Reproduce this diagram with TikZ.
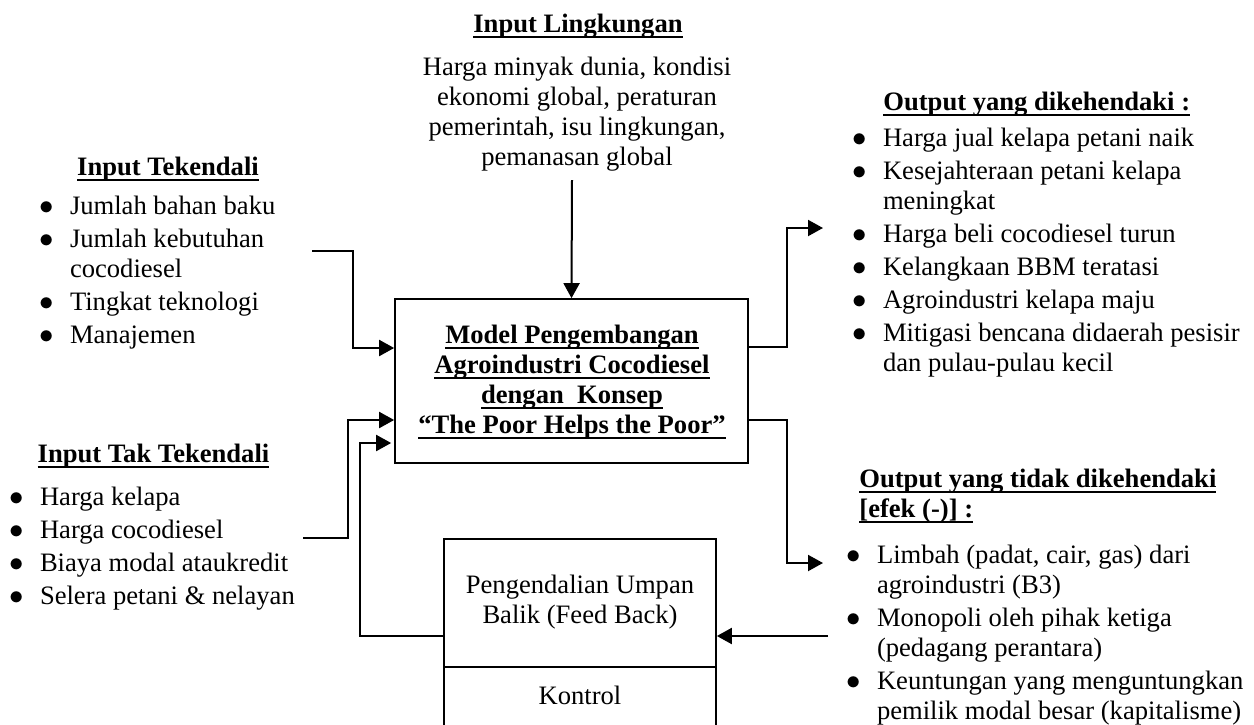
\documentclass[tikz,border=0pt]{standalone}
\usepackage{fontspec}
\setmainfont{Liberation Serif}
\usetikzlibrary{arrows.meta,calc}
\newcommand{\myul}[1]{\begingroup\setbox0=\hbox{#1}\rlap{\vrule width\wd0 height -2.2pt depth 3.1pt}\box0\endgroup}
\newcommand{\bul}{\makebox[15.3pt][l]{$\bullet$}}
\newcommand{\cnt}{\hspace*{15.3pt}}
\newcommand{\isep}{\\[1.5pt]}
\newcommand{\lst}[1]{\begin{tabular}[t]{@{}l@{}}#1\end{tabular}}
\newcommand{\cst}[1]{\begin{tabular}[t]{@{}c@{}}#1\end{tabular}}
\tikzset{
  conn/.style={line width=1pt, -{Triangle[length=7.5pt,width=8pt]}},
  txt/.style={inner sep=0pt, font=\fontsize{13.3}{15}\selectfont},
  btxt/.style={inner sep=0pt, font=\fontsize{13.3}{15}\selectfont\bfseries},
  boxs/.style={draw, line width=0.85pt, inner sep=0pt},
}
\begin{document}
\begin{tikzpicture}[x=0.5pt, y=-0.5pt]
\useasboundingbox (0,0) rectangle (1254,724);
\clip (0,0) rectangle (1254,724);

% central model box
\node[boxs, minimum width=176.5pt, minimum height=82pt] (model) at (571.5,381) {};
\node[btxt, anchor=base] (modeltxt) at (572,343) {\cst{\myul{Model Pengembangan}\\ \myul{Agroindustri Cocodiesel}\\ \myul{dengan\ \ Konsep}\\ \myul{“The Poor Helps the Poor”}}};

% feedback box
\node[boxs, minimum width=136pt, minimum height=64pt] (fb) at (580,603) {};
\node[boxs, minimum width=136pt, minimum height=36.5pt] (ktl) at (580,703.5) {};
\node[txt, anchor=base] (fbtxt) at (580,593) {\cst{Pengendalian Umpan\\Balik (Feed Back)}};
\node[txt, anchor=base] (ktltxt) at (580,704) {Kontrol};

% input lingkungan
\node[btxt, anchor=base] (envtitle) at (578,32) {\myul{Input Lingkungan}};
\node[txt, anchor=base] (envtxt) at (577,75) {\cst{Harga minyak dunia, kondisi\\ekonomi global, peraturan\\pemerintah, isu lingkungan,\\pemanasan global}};
\coordinate (envout) at (572,180);

% input tekendali
\node[btxt, anchor=base] (tektitle) at (168,175) {\myul{Input Tekendali}};
\node[txt, anchor=base west] (teklist) at (39,214) {\lst{\bul Jumlah bahan baku\isep \bul Jumlah kebutuhan\\ \cnt cocodiesel\isep \bul Tingkat teknologi\isep \bul Manajemen}};
\coordinate (tekout) at (312,251);

% input tak tekendali
\node[btxt, anchor=base] (taktitle) at (153.5,462) {\myul{Input Tak Tekendali}};
\node[txt, anchor=base west] (taklist) at (9,505) {\lst{\bul Harga kelapa\isep \bul Harga cocodiesel\isep \bul Biaya modal ataukredit\isep \bul Selera petani \& nelayan}};
\coordinate (takout) at (303,538);

% output dikehendaki
\node[btxt, anchor=base west] (out1title) at (883,110) {\myul{Output yang dikehendaki :}};
\node[txt, anchor=base west] (out1list) at (852,146) {\lst{\bul Harga jual kelapa petani naik\isep \bul Kesejahteraan petani kelapa\\ \cnt meningkat\isep \bul Harga beli cocodiesel turun\isep \bul Kelangkaan BBM teratasi\isep \bul Agroindustri kelapa maju\isep \bul Mitigasi bencana didaerah pesisir\\ \cnt dan pulau-pulau kecil}};
\coordinate (out1in) at (823,228);

% output tidak dikehendaki
\node[btxt, anchor=base west] (out2title) at (859,487) {\lst{\myul{Output yang tidak dikehendaki}\\ \myul{[efek (-)] :}}};
\node[txt, anchor=base west] (out2list) at (846,563) {\lst{\bul Limbah (padat, cair, gas) dari\\ \cnt agroindustri (B3)\isep \bul Monopoli oleh pihak ketiga\\ \cnt (pedagang perantara)\isep \bul Keuntungan yang menguntungkan\\ \cnt pemilik modal besar (kapitalisme)}};
\coordinate (out2in) at (823,563);
\coordinate (negin) at (828,636);

% connectors
\draw[conn] (envout) -- (model.north);
\draw[conn] (tekout) -- ++(41,0) |- ($(model.west)+(0,-33)$);
\draw[conn] (takout) -- ++(45,0) |- ($(model.west)+(0,39)$);
\draw[conn, shorten >=1.5pt] ($(fb.west)+(0,33)$) -- ++(-83,0) |- ($(model.west)+(0,62)$);
\draw[conn] ($(model.east)+(0,-34)$) -- ++(38,0) |- (out1in);
\draw[conn] ($(model.east)+(0,39)$) -- ++(38,0) |- (out2in);
\draw[conn] (negin) -- ($(fb.east)+(0,33)$);
\end{tikzpicture}
\end{document}
